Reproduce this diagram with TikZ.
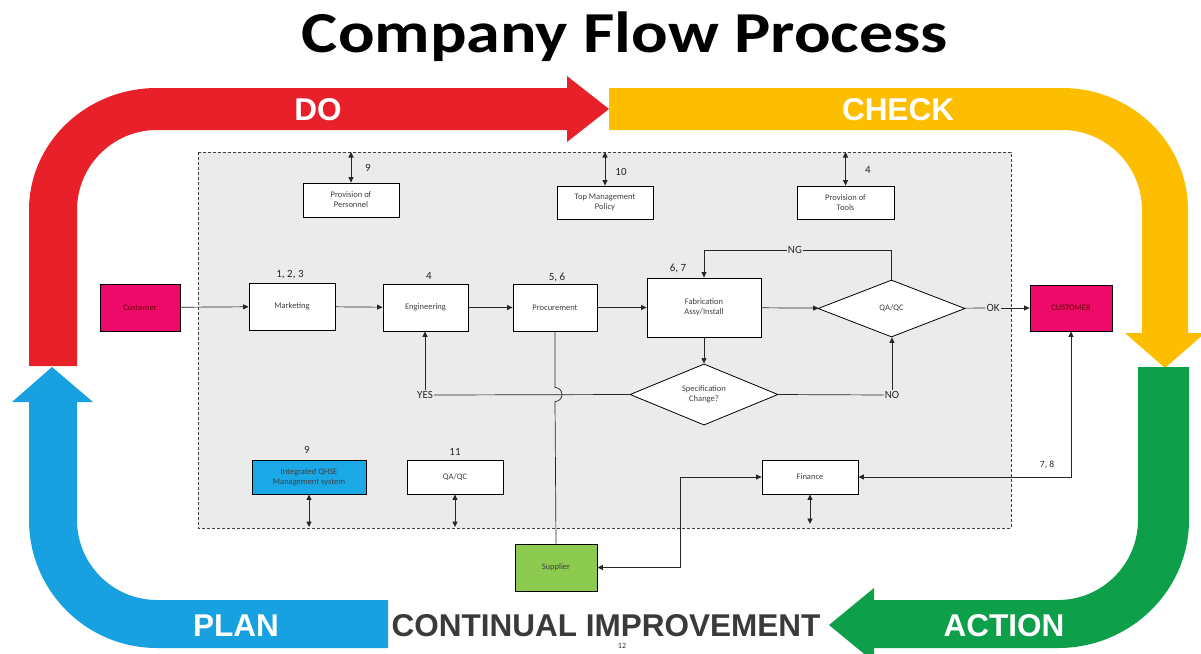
\documentclass[tikz,border=0pt]{standalone}
\usepackage{fontspec}
\setmainfont{Carlito}
\newfontfamily\arialfont{Liberation Sans}
\usetikzlibrary{shapes.geometric,arrows.meta,calc}
\definecolor{cred}{HTML}{E8202A}
\definecolor{cyellow}{HTML}{FDBE00}
\definecolor{cgreen}{HTML}{0E9F4B}
\definecolor{cblue}{HTML}{17A1E1}
\definecolor{cpink}{HTML}{EE0A68}
\definecolor{csup}{HTML}{8DCB50}
\definecolor{cqhse}{HTML}{1AA8E6}
\definecolor{cbg}{HTML}{EBEBEB}
\definecolor{ctxt}{HTML}{3A3A3A}
\begin{document}
\begin{tikzpicture}[x=1pt,y=-1pt,
  box/.style={draw=black, fill=white, line width=0.8pt, inner sep=0pt, align=center,
    font=\fontsize{8.5}{10}\selectfont, text=black!75},
  dia/.style={diamond, draw=black, fill=white, line width=0.8pt, inner sep=0pt, align=center,
    font=\fontsize{8.5}{10}\selectfont, text=black!75},
  lbl/.style={font=\fontsize{11}{12}\selectfont, inner sep=1pt, text=black!85},
  conn/.style={draw=black!85, line width=0.7pt},
  arr/.style={conn, -{Triangle[length=5.5pt,width=5pt]}},
  dbl/.style={conn, line width=0.9pt, {Triangle[length=5.5pt,width=5pt]}-{Triangle[length=5.5pt,width=5pt]}},
  pdca/.style={font=\arialfont\bfseries\fontsize{31.5}{32}\selectfont, text=white, inner sep=0pt}]
\useasboundingbox (0,0) rectangle (1201,653);
\fill[white] (0,0) rectangle (1201,653);

% title
\node[font=\fontsize{58}{62}\selectfont\bfseries, text=black, xscale=1.176, anchor=base, inner sep=0pt] (title) at (625,52)
  {Company Flow Process};

% PDCA bands
\fill[cred] (29,366) -- (29,210) arc[start angle=180,end angle=270,x radius=128,y radius=122]
  -- (567,88) -- (567,76) -- (609,109) -- (567,142) -- (567,130) -- (157,130)
  arc[start angle=270,end angle=180,radius=80] -- (77,366) -- cycle;
\fill[cyellow] (609,88) -- (1062,88) arc[start angle=270,end angle=360,x radius=126,y radius=122]
  -- (1188,333) -- (1205,333) -- (1165,368) -- (1125,333) -- (1142,333) -- (1142,210)
  arc[start angle=0,end angle=-90,radius=80] -- (609,130) -- cycle;
\fill[cgreen] (1138,367) -- (1189,367) -- (1189,520) arc[start angle=0,end angle=90,x radius=131,y radius=128]
  -- (874,648) -- (874,662) -- (829,625) -- (874,588) -- (874,600) -- (1058,600)
  arc[start angle=90,end angle=0,radius=80] -- cycle;
\fill[cblue] (388,600) -- (157,600) arc[start angle=90,end angle=180,radius=80]
  -- (77,402) -- (93,402) -- (52,367) -- (12,402) -- (29,402) -- (29,520)
  arc[start angle=180,end angle=90,radius=128] -- (388,648) -- cycle;

\node[pdca] (do) at (318,110) {DO};
\node[pdca] (check) at (898,110) {CHECK};
\node[pdca] (plan) at (236,626) {PLAN};
\node[pdca] (action) at (1004,626) {ACTION};
\node[pdca, text=ctxt] (ci) at (606,626) {CONTINUAL IMPROVEMENT};
\node[font=\fontsize{8}{9}\selectfont, text=black!80] (page) at (622,646) {12};

% frame
\draw[dashed, dash pattern=on 3pt off 2pt, draw=black!75, line width=0.7pt, fill=cbg] (198,152) rectangle (1011,528);

% nodes
\node[box, minimum width=96, minimum height=34] (pers) at (351,200) {Provision of\\Personnel};
\node[box, minimum width=96, minimum height=33] (top) at (605,202.5) {Top Management\\Policy};
\node[box, minimum width=97, minimum height=33] (tools) at (845.5,202.5) {Provision of\\Tools};
\node[box, fill=cpink, text=black!60!red, minimum width=80, minimum height=47] (cust) at (140,307.5) {Customer};
\node[box, minimum width=86, minimum height=47] (mkt) at (292,306.5) {Marketing};
\node[box, minimum width=85, minimum height=47] (eng) at (425.5,307.5) {Engineering};
\node[box, minimum width=84, minimum height=47] (proc) at (555,307.5) {Procurement};
\node[box, minimum width=114, minimum height=59] (fab) at (704,307.5) {Fabrication\\Assy/Install};
\node[dia, minimum width=147, minimum height=57] (qa) at (891.5,308.5) {QA/QC};
\node[box, fill=cpink, text=black!60!red, minimum width=82, minimum height=46] (cust2) at (1071,308) {CUSTOMER};
\node[dia, minimum width=148, minimum height=57] (spec) at (704,394.5) {Specification\\Change?};
\node[box, fill=cqhse, minimum width=114, minimum height=34] (qhse) at (309,477) {Integrated QHSE\\Management system};
\node[box, minimum width=96, minimum height=34] (qabox) at (455,477) {QA/QC};
\node[box, minimum width=96, minimum height=34] (fin) at (810,477) {Finance};
\node[box, fill=csup, minimum width=82, minimum height=47] (sup) at (556,567.5) {Supplier};

% labels
\node[lbl] (n1) at (290,275) {1, 2, 3};
\node[lbl] (n2) at (429,276) {4};
\node[lbl] (n3) at (557,277) {5, 6};
\node[lbl] (n4) at (678,268) {6, 7};
\node[lbl] (n5) at (368,168) {9};
\node[lbl] (n6) at (621,172) {10};
\node[lbl] (n7) at (868,170) {4};
\node[lbl] (n8) at (307,450) {9};
\node[lbl] (n9) at (455,452) {11};
\node[lbl, font=\fontsize{9.5}{10}\selectfont] (n10) at (1047,465) {7, 8};
\node[lbl] (ng) at (795,250) {NG};
\node[lbl] (ok) at (993,308) {OK};
\node[lbl] (yes) at (425,395) {YES};
\node[lbl] (no) at (892,395) {NO};

% coordinates
\coordinate (f1) at (351,152);
\coordinate (f2) at (605,152);
\coordinate (f3) at (845.5,152);
\coordinate (b1) at (309,527);
\coordinate (b2) at (455,527);
\coordinate (b3) at (810,524);
\coordinate (bend) at (680,477);
\coordinate (bend2) at (1071,477);
\coordinate (jmp) at (proc.south |- spec.west);

% connectors
\draw[arr] (cust) -- (mkt);
\draw[arr] (mkt) -- (eng);
\draw[arr] (eng) -- (proc);
\draw[arr] (proc) -- (fab);
\draw[arr] (fab) -- (qa);
\draw[conn] (qa) -- (ok);
\draw[arr] (ok) -- (cust2);
\draw[conn] (qa.north) |- (ng.east);
\draw[arr] (ng.west) -| (fab.north);
\draw[arr] (fab) -- (spec);
\draw[conn] (spec.west) -- (yes.east);
\draw[arr] (yes.north) -- (yes.north |- eng.south);
\draw[conn] (spec.east) -- (no.west);
\draw[arr] (no.north) -- (no.north |- qa.south);
\draw[conn] (proc.south) -- ($(jmp)+(0,-7)$) arc[start angle=-90,end angle=90,radius=7] -- (sup.north);
\draw[dbl] (sup.east) -| (bend) -- (fin.west);
\draw[dbl] (fin.east) -- (bend2) -- (cust2.south);
\draw[dbl] (f1) -- (pers.north);
\draw[dbl] (f2) -- (top.north);
\draw[dbl] (f3) -- (tools.north);
\draw[dbl] (qhse.south) -- (b1);
\draw[dbl] (qabox.south) -- (b2);
\draw[dbl] (fin.south) -- (b3);
\end{tikzpicture}
\end{document}
